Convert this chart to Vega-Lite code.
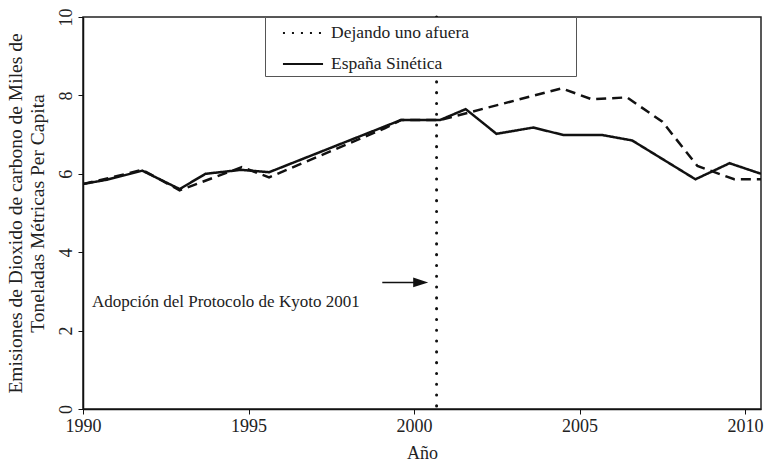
{
  "$schema": "https://vega.github.io/schema/vega-lite/v6.json",
  "width": 678,
  "height": 392,
  "autosize": {"type": "none"},
  "padding": {"left": 83, "top": 17, "right": 5, "bottom": 55},
  "background": "white",
  "config": {
    "font": "Liberation Serif",
    "view": {"stroke": "#222", "strokeWidth": 1.5},
    "axis": {
      "grid": false,
      "domainColor": "#111",
      "domainWidth": 1.5,
      "tickColor": "#111",
      "tickWidth": 1,
      "tickSize": 5,
      "labelFlush": false,
      "labelFont": "Liberation Serif",
      "labelFontSize": 18,
      "labelColor": "#222",
      "titleFont": "Liberation Serif",
      "titleFontWeight": "normal",
      "titleColor": "#222"
    },
    "legend": {
      "labelFont": "Liberation Serif",
      "labelFontSize": 17.5,
      "labelColor": "#222"
    }
  },
  "datasets": {
    "series": [
      {"series": "España Sinética", "year": 1990.0, "value": 5.74},
      {"series": "España Sinética", "year": 1990.73, "value": 5.85},
      {"series": "España Sinética", "year": 1991.79, "value": 6.08},
      {"series": "España Sinética", "year": 1992.92, "value": 5.61},
      {"series": "España Sinética", "year": 1993.7, "value": 6.0},
      {"series": "España Sinética", "year": 1994.77, "value": 6.1},
      {"series": "España Sinética", "year": 1995.62, "value": 6.04},
      {"series": "España Sinética", "year": 1999.6, "value": 7.37},
      {"series": "España Sinética", "year": 2000.78, "value": 7.37},
      {"series": "España Sinética", "year": 2001.56, "value": 7.65},
      {"series": "España Sinética", "year": 2002.49, "value": 7.02},
      {"series": "España Sinética", "year": 2003.6, "value": 7.18},
      {"series": "España Sinética", "year": 2004.51, "value": 6.99},
      {"series": "España Sinética", "year": 2005.68, "value": 6.99},
      {"series": "España Sinética", "year": 2006.59, "value": 6.85},
      {"series": "España Sinética", "year": 2008.5, "value": 5.86},
      {"series": "España Sinética", "year": 2009.53, "value": 6.27},
      {"series": "España Sinética", "year": 2010.48, "value": 6.0},
      {"series": "Dejando uno afuera", "year": 1990.0, "value": 5.74},
      {"series": "Dejando uno afuera", "year": 1990.73, "value": 5.88},
      {"series": "Dejando uno afuera", "year": 1991.79, "value": 6.1},
      {"series": "Dejando uno afuera", "year": 1992.92, "value": 5.58},
      {"series": "Dejando uno afuera", "year": 1994.8, "value": 6.17},
      {"series": "Dejando uno afuera", "year": 1995.62, "value": 5.91},
      {"series": "Dejando uno afuera", "year": 1999.11, "value": 7.16},
      {"series": "Dejando uno afuera", "year": 1999.6, "value": 7.37},
      {"series": "Dejando uno afuera", "year": 2000.78, "value": 7.37},
      {"series": "Dejando uno afuera", "year": 2004.46, "value": 8.18},
      {"series": "Dejando uno afuera", "year": 2005.37, "value": 7.9},
      {"series": "Dejando uno afuera", "year": 2006.43, "value": 7.95},
      {"series": "Dejando uno afuera", "year": 2007.5, "value": 7.33},
      {"series": "Dejando uno afuera", "year": 2008.56, "value": 6.2},
      {"series": "Dejando uno afuera", "year": 2009.67, "value": 5.86},
      {"series": "Dejando uno afuera", "year": 2010.48, "value": 5.86}
    ]
  },
  "layer": [
    {
      "data": {"name": "series"},
      "mark": {"type": "line", "color": "#111", "strokeWidth": 2.5, "clip": true},
      "encoding": {
        "x": {
          "field": "year",
          "type": "quantitative",
          "scale": {"domain": [1990, 2010.48], "nice": false, "zero": false},
          "axis": {
            "values": [1990, 1995, 2000, 2005, 2010],
            "format": "d",
            "title": "Año",
            "titleFontSize": 18,
            "labelPadding": 3,
            "titlePadding": 9
          }
        },
        "y": {
          "field": "value",
          "type": "quantitative",
          "scale": {"domain": [0, 10], "nice": false, "zero": true},
          "axis": {
            "values": [0, 2, 4, 6, 8, 10],
            "labelAngle": -90,
            "labelAlign": "center",
            "labelBaseline": "bottom",
            "labelPadding": 3,
            "title": ["Emisiones de Dioxido de carbono de Miles de", "Toneladas Métricas Per Capita"],
            "titleFontSize": 19.5,
            "titleLineHeight": 22,
            "titlePadding": 10
          }
        },
        "detail": {"field": "series", "type": "nominal"},
        "strokeDash": {
          "condition": {"test": "datum.series === 'Dejando uno afuera'", "value": [10, 6]},
          "value": [1, 0]
        }
      }
    },
    {
      "data": {"name": "series"},
      "mark": {"type": "line", "color": "#111", "strokeWidth": 1.5, "strokeOpacity": 0, "clip": true},
      "encoding": {
        "x": {"field": "year", "type": "quantitative"},
        "y": {"field": "value", "type": "quantitative"},
        "strokeDash": {
          "field": "series",
          "type": "nominal",
          "scale": {
            "domain": ["Dejando uno afuera", "España Sinética"],
            "range": [[2, 7], [1, 0]]
          },
          "legend": {
            "title": "\u00a0",
            "titleOrient": "right",
            "titlePadding": 104,
            "titleFontSize": 10,
            "orient": "none",
            "legendX": 182,
            "legendY": 0,
            "padding": 3,
            "strokeColor": "#555",
            "fillColor": "white",
            "symbolType": "M-1.67,0H1.67",
            "symbolSize": 576,
            "symbolStrokeWidth": 2,
            "symbolStrokeColor": "#111",
            "symbolOpacity": 1,
            "symbolOffset": 22,
            "labelOffset": 15,
            "labelLimit": 500,
            "rowPadding": 9
          }
        }
      }
    },
    {
      "data": {"values": [{"year": 2000.68}]},
      "mark": {"type": "rule", "color": "#111", "strokeWidth": 3, "strokeDash": [0.1, 10.7], "strokeCap": "round"},
      "encoding": {
        "x": {"field": "year", "type": "quantitative"}
      }
    },
    {
      "data": {"values": [{"year": 1999.04, "year2": 2000.2, "value": 3.23}]},
      "mark": {"type": "rule", "color": "#111", "strokeWidth": 1.5},
      "encoding": {
        "x": {"field": "year", "type": "quantitative"},
        "x2": {"field": "year2"},
        "y": {"field": "value", "type": "quantitative"}
      }
    },
    {
      "data": {"values": [{"year": 2000.2, "value": 3.23}]},
      "mark": {"type": "point", "shape": "M-1,-0.65L1,0L-1,0.65Z", "filled": true, "color": "#111", "opacity": 1, "size": 225},
      "encoding": {
        "x": {"field": "year", "type": "quantitative"},
        "y": {"field": "value", "type": "quantitative"}
      }
    },
    {
      "data": {"values": [{"year": 1990.27, "value": 2.61, "label": "Adopción del Protocolo de Kyoto 2001"}]},
      "mark": {"type": "text", "align": "left", "baseline": "alphabetic", "font": "Liberation Serif", "fontSize": 17, "color": "#222"},
      "encoding": {
        "x": {"field": "year", "type": "quantitative"},
        "y": {"field": "value", "type": "quantitative"},
        "text": {"field": "label"}
      }
    }
  ]
}
